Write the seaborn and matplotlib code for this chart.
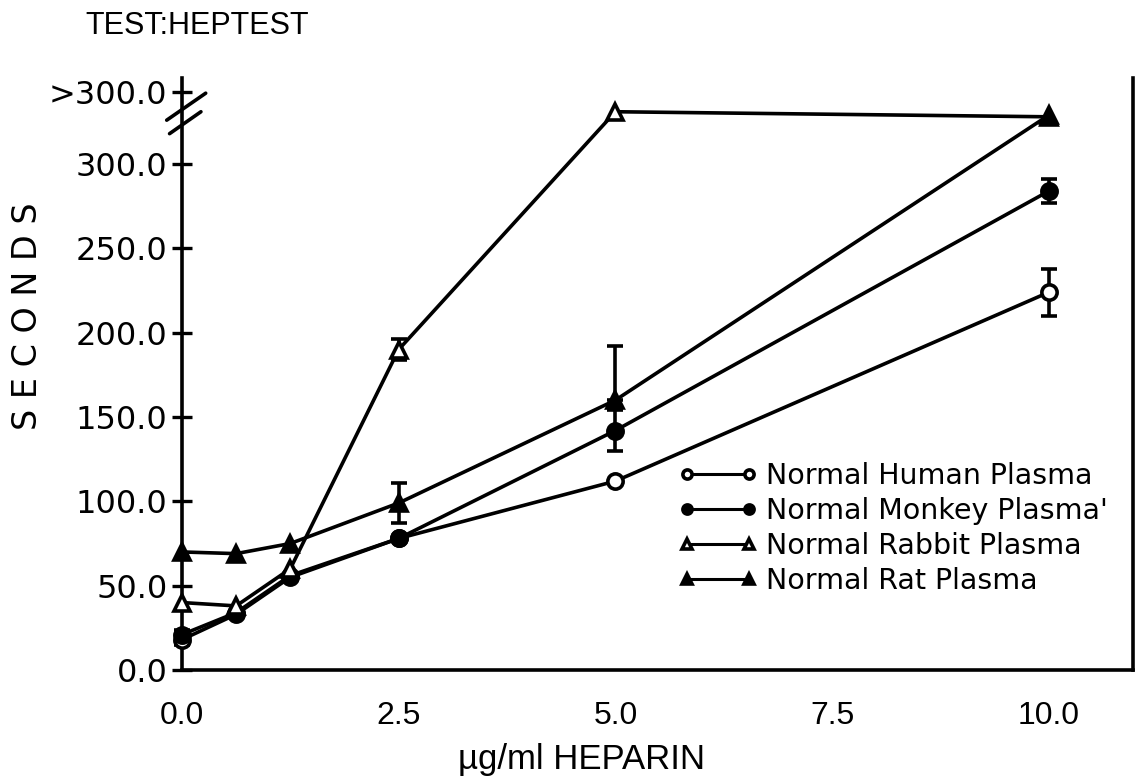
import numpy as np
import pandas as pd
import matplotlib
matplotlib.use("Agg")
import matplotlib.pyplot as plt
import seaborn as sns

# ---------------- data ----------------
heparin = [0.0, 0.625, 1.25, 2.5, 5.0, 10.0]

human = [18, 33, 55, 78, 112, 224]
human_err = [3, 0, 0, 0, 0, 14]

monkey = [21, 34, 56, 78, 142, 284]
monkey_err = [3, 0, 0, 0, 12, 7]

rabbit = [40, 38, 60, 190, 331, 328]   # last two plotted at ">300"
rabbit_err = [0, 0, 0, 6, 0, 0]

rat = [70, 69, 75, 99, 160, 329]        # last plotted at ">300"
rat_err_low = [0, 0, 0, 12, 0, 0]
rat_err_high = [0, 0, 0, 12, 32, 0]

series_names = ["Normal Human Plasma", "Normal Monkey Plasma'",
                "Normal Rabbit Plasma", "Normal Rat Plasma"]

y_ticks = [0, 50, 100, 150, 200, 250, 300, 343]
y_tick_labels = ["0.0", "50.0", "100.0", "150.0", "200.0", "250.0", "300.0", ">300.0"]
x_ticks = [0.0, 2.5, 5.0, 7.5, 10.0]
x_tick_labels = ["0.0", "2.5", "5.0", "7.5", "10.0"]

# ---------------- style ----------------
sns.set_style("white", {"text.color": "black", "axes.labelcolor": "black",
                        "xtick.color": "black", "ytick.color": "black",
                        "axes.edgecolor": "black"})
plt.rcParams["font.family"] = ["DejaVu Sans"]

fig = plt.figure(figsize=(11.37, 7.84), dpi=100)
ax = fig.add_axes([0.160, 0.1454, 0.8365, 0.7551])

styles = [
    (human, [human_err, human_err], "o", "white"),
    (monkey, [monkey_err, monkey_err], "o", "black"),
    (rabbit, [rabbit_err, rabbit_err], "^", "white"),
    (rat, [rat_err_low, rat_err_high], "^", "black"),
]

LW = 2.6
for (vals, errs, mk, fc), name in zip(styles, series_names):
    df = pd.DataFrame({"x": heparin, "y": vals})
    sns.lineplot(data=df, x="x", y="y", ax=ax, color="black", linewidth=LW,
                 marker=mk, markersize=11, markerfacecolor=fc,
                 markeredgecolor="black", markeredgewidth=2.6,
                 label=name, clip_on=False, zorder=3)
    lo = np.array(errs[0], dtype=float)
    hi = np.array(errs[1], dtype=float)
    mask = (lo + hi) > 0
    if mask.any():
        xs = np.array(heparin)[mask]
        ys = np.array(vals, dtype=float)[mask]
        ax.errorbar(xs, ys, yerr=[lo[mask], hi[mask]], fmt="none",
                    ecolor="black", elinewidth=2.6, capsize=6, capthick=2.6,
                    zorder=2, clip_on=False)

ax.set_xlim(0, 10.97)
ax.set_ylim(0, 351)

ax.set_xticks(x_ticks)
ax.set_xticklabels(x_tick_labels, fontfamily="Liberation Sans", fontsize=23,
                   color="black")
ax.set_yticks(y_ticks)
ax.set_yticklabels(y_tick_labels, fontsize=23, color="black")

ax.tick_params(axis="x", bottom=True, length=0, pad=22)
ax.tick_params(axis="y", left=True, direction="inout", length=15, width=2.4,
               pad=3, color="black")

for side in ["left", "bottom", "right"]:
    ax.spines[side].set_visible(True)
    ax.spines[side].set_color("black")
    ax.spines[side].set_linewidth(2.6)
ax.spines["top"].set_visible(False)

ax.set_xlabel("\u00b5g/ml HEPARIN", fontfamily="Liberation Sans", fontsize=25,
              color="black")
ax.xaxis.set_label_coords(0.42, -0.152)
ax.xaxis.label.set_va("center")

ax.set_ylabel("S E C O N D S", fontsize=24, color="black")
ax.yaxis.set_label_coords(-0.162, 0.598)
ax.yaxis.label.set_va("center")

# axis break marks on the y axis
tr = ax.get_yaxis_transform()
ax.plot([-0.016, 0.025], [326, 342], transform=tr, color="black", lw=2.6, clip_on=False)
ax.plot([-0.013, 0.020], [318, 331], transform=tr, color="black", lw=2.6, clip_on=False)

fig.text(85 / 1137, 1 - 26 / 784, "TEST:HEPTEST", fontfamily="Liberation Sans",
         fontsize=22, ha="left", va="center", color="black")

leg = ax.legend(loc="upper left", bbox_to_anchor=(678 / 1137, 1 - 462 / 784),
                bbox_transform=fig.transFigure, frameon=False, numpoints=2,
                handlelength=2.8, handletextpad=0.3, markerscale=0.6,
                fontsize=20.5, labelspacing=0.25, borderpad=0, borderaxespad=0)
for h in leg.legend_handles:
    h.set_linewidth(2.2)
for t in leg.get_texts():
    t.set_color("black")

fig.savefig("out.png", dpi=100)
